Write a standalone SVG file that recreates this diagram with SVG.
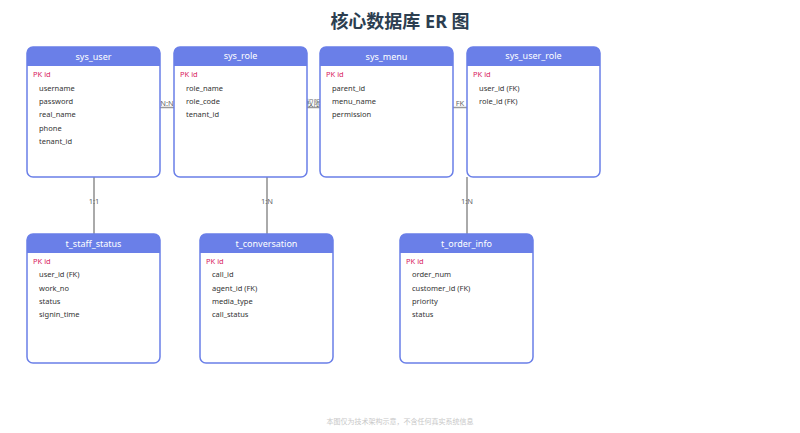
<svg xmlns="http://www.w3.org/2000/svg" width="800" height="433" viewBox="0 0 800 433">
<style>
text{font-family:"Noto Sans","Noto Sans CJK SC",sans-serif}
.title{font-size:18px;font-weight:bold;fill:#2c3e50;text-anchor:middle}
.box{fill:#ffffff;stroke:#6a7fe8;stroke-width:1.5}
.hdr{fill:#6a7fe8}
.hname{font-size:9px;fill:#ffffff;text-anchor:middle}
.pk{font-size:7.5px;fill:#d81b60}
.fld{font-size:7.5px;fill:#333333}
.conn{stroke:#999999;stroke-width:1.5;fill:none}
.vconn{stroke:#aaaaaa;stroke-width:2;fill:none}
.lbl{font-size:7.5px;fill:#666666;text-anchor:middle}
.foot{font-size:7px;fill:#c8c8c8;text-anchor:middle}
</style>
<defs>
<clipPath id="c"><rect x="0" y="0" width="133" height="130" rx="6"/></clipPath>
</defs>
<text class="title" x="400" y="28">核心数据库 ER 图</text>

<g id="connectors">
<line class="conn" x1="160" y1="107.5" x2="174" y2="107.5"/>
<text class="lbl" x="167" y="106">N:N</text>
<line class="conn" x1="307" y1="107.5" x2="320" y2="107.5"/>
<text class="lbl" x="313.5" y="106">权限</text>
<line class="conn" x1="453" y1="107.5" x2="467" y2="107.5"/>
<text class="lbl" x="460" y="106">FK</text>
<line class="vconn" x1="94" y1="177" x2="94" y2="234"/>
<text class="lbl" x="94" y="204">1:1</text>
<line class="vconn" x1="267" y1="177" x2="267" y2="234"/>
<text class="lbl" x="267" y="204">1:N</text>
<line class="vconn" x1="467" y1="177" x2="467" y2="234"/>
<text class="lbl" x="467" y="204">1:N</text>
</g>

<g id="sys_user" transform="translate(27,47)">
<g clip-path="url(#c)"><rect x="0" y="0" width="133" height="130" fill="#fff"/><rect class="hdr" x="0" y="0" width="133" height="19"/></g>
<rect class="box" x="0" y="0" width="133" height="130" rx="6" fill="none" style="fill:none"/>
<text class="hname" x="66.5" y="13">sys_user</text>
<text class="pk" x="6" y="30">PK id</text>
<text class="fld" x="12" y="44">username</text>
<text class="fld" x="12" y="57">password</text>
<text class="fld" x="12" y="70">real_name</text>
<text class="fld" x="12" y="84">phone</text>
<text class="fld" x="12" y="97">tenant_id</text>
</g>

<g id="sys_role" transform="translate(174,47)">
<g clip-path="url(#c)"><rect x="0" y="0" width="133" height="130" fill="#fff"/><rect class="hdr" x="0" y="0" width="133" height="19"/></g>
<rect class="box" x="0" y="0" width="133" height="130" rx="6" style="fill:none"/>
<text class="hname" x="66.5" y="12">sys_role</text>
<text class="pk" x="6" y="30">PK id</text>
<text class="fld" x="12" y="44">role_name</text>
<text class="fld" x="12" y="57">role_code</text>
<text class="fld" x="12" y="70">tenant_id</text>
</g>

<g id="sys_menu" transform="translate(320,47)">
<g clip-path="url(#c)"><rect x="0" y="0" width="133" height="130" fill="#fff"/><rect class="hdr" x="0" y="0" width="133" height="19"/></g>
<rect class="box" x="0" y="0" width="133" height="130" rx="6" style="fill:none"/>
<text class="hname" x="66.5" y="13">sys_menu</text>
<text class="pk" x="6" y="30">PK id</text>
<text class="fld" x="12" y="44">parent_id</text>
<text class="fld" x="12" y="57">menu_name</text>
<text class="fld" x="12" y="70">permission</text>
</g>

<g id="sys_user_role" transform="translate(467,47)">
<g clip-path="url(#c)"><rect x="0" y="0" width="133" height="130" fill="#fff"/><rect class="hdr" x="0" y="0" width="133" height="19"/></g>
<rect class="box" x="0" y="0" width="133" height="130" rx="6" style="fill:none"/>
<text class="hname" x="66.5" y="12">sys_user_role</text>
<text class="pk" x="6" y="30">PK id</text>
<text class="fld" x="12" y="44">user_id (FK)</text>
<text class="fld" x="12" y="57">role_id (FK)</text>
</g>

<g id="t_staff_status" transform="translate(27,234)">
<g clip-path="url(#c)"><rect x="0" y="0" width="133" height="130" fill="#fff"/><rect class="hdr" x="0" y="0" width="133" height="19"/></g>
<rect class="box" x="0" y="0" width="133" height="129" rx="6" style="fill:none"/>
<text class="hname" x="66.5" y="13">t_staff_status</text>
<text class="pk" x="6" y="30">PK id</text>
<text class="fld" x="12" y="43">user_id (FK)</text>
<text class="fld" x="12" y="57">work_no</text>
<text class="fld" x="12" y="70">status</text>
<text class="fld" x="12" y="83">signin_time</text>
</g>

<g id="t_conversation" transform="translate(200,234)">
<g clip-path="url(#c)"><rect x="0" y="0" width="133" height="130" fill="#fff"/><rect class="hdr" x="0" y="0" width="133" height="19"/></g>
<rect class="box" x="0" y="0" width="133" height="129" rx="6" style="fill:none"/>
<text class="hname" x="66.5" y="13">t_conversation</text>
<text class="pk" x="6" y="30">PK id</text>
<text class="fld" x="12" y="43">call_id</text>
<text class="fld" x="12" y="57">agent_id (FK)</text>
<text class="fld" x="12" y="70">media_type</text>
<text class="fld" x="12" y="83">call_status</text>
</g>

<g id="t_order_info" transform="translate(400,234)">
<g clip-path="url(#c)"><rect x="0" y="0" width="133" height="130" fill="#fff"/><rect class="hdr" x="0" y="0" width="133" height="19"/></g>
<rect class="box" x="0" y="0" width="133" height="129" rx="6" style="fill:none"/>
<text class="hname" x="66.5" y="13">t_order_info</text>
<text class="pk" x="6" y="30">PK id</text>
<text class="fld" x="12" y="43">order_num</text>
<text class="fld" x="12" y="57">customer_id (FK)</text>
<text class="fld" x="12" y="70">priority</text>
<text class="fld" x="12" y="83">status</text>
</g>

<text class="foot" x="400" y="424">本图仅为技术架构示意，不含任何真实系统信息</text>
</svg>
